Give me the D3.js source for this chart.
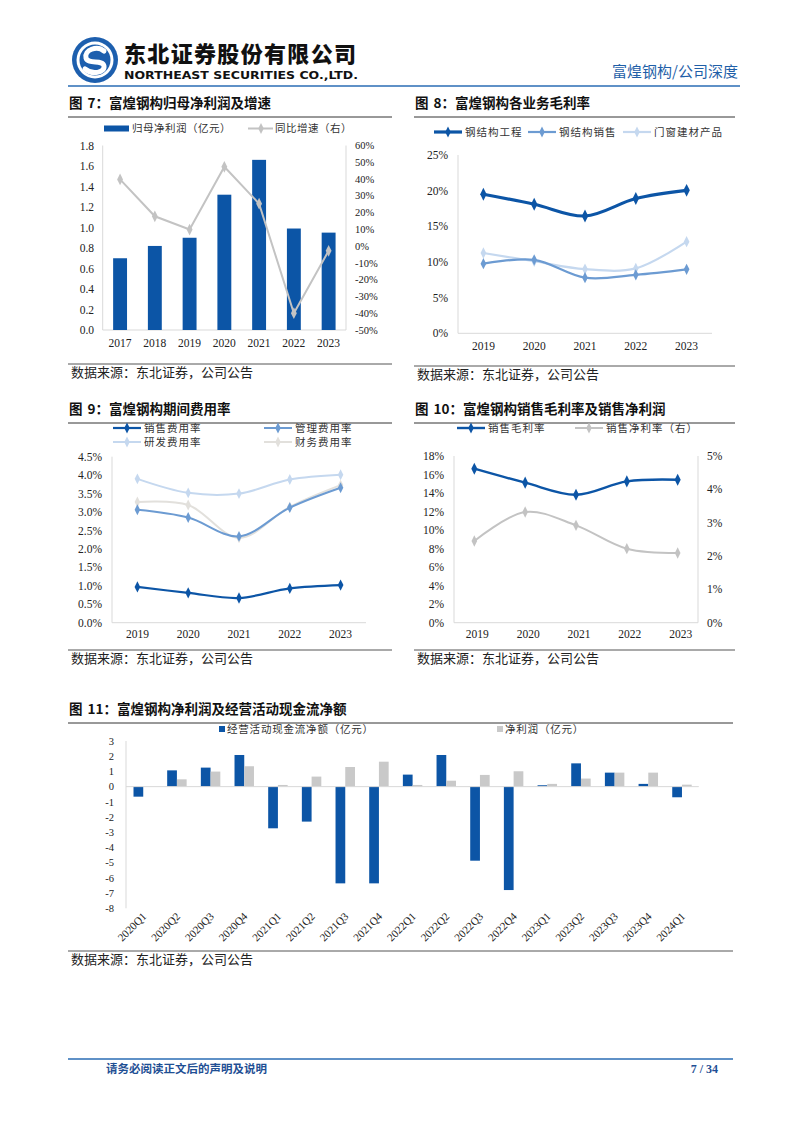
<!DOCTYPE html>
<html><head><meta charset="utf-8">
<script src="https://cdn.jsdelivr.net/npm/d3@7"></script>
<style>
html,body{margin:0;padding:0;background:#fff;}
svg{display:block;}
.cn{font-family:"Noto Sans CJK SC","Noto Sans",sans-serif;}
.num{font-family:"Liberation Serif","Times New Roman",serif;}
</style></head>
<body>
<svg id="page" width="802" height="1133"></svg>
<script>
// ---------------- DATA ----------------
const years7 = ["2017","2018","2019","2020","2021","2022","2023"];
const netProfit7 = [0.70, 0.82, 0.90, 1.32, 1.66, 0.99, 0.95];
const growth7 = [39.8, 17.8, 9.9, 47.3, 25.3, -40.0, -2.8];
const leftTicks7 = [0,0.2,0.4,0.6,0.8,1.0,1.2,1.4,1.6,1.8];
const rightTicks7 = [60,50,40,30,20,10,0,-10,-20,-30,-40,-50];

const years5 = ["2019","2020","2021","2022","2023"];
const gmSteelEng = [19.5, 18.1, 16.45, 18.9, 20.05];
const gmSteelSale = [9.76, 10.3, 7.8, 8.2, 8.97];
const gmDoorWin = [11.26, 10.1, 9.0, 9.1, 12.85];
const ticks8 = [0,5,10,15,20,25];

const sellRate = [0.97, 0.81, 0.67, 0.93, 1.02];
const mgmtRate = [3.06, 2.85, 2.34, 3.12, 3.66];
const rdRate = [3.90, 3.52, 3.50, 3.88, 4.01];
const finRate = [3.27, 3.19, 2.30, 3.14, 3.73];
const ticks9 = [0,0.5,1.0,1.5,2.0,2.5,3.0,3.5,4.0,4.5];

const grossMargin = [16.63, 15.12, 13.82, 15.26, 15.44];
const netMargin = [2.45, 3.32, 2.92, 2.22, 2.09];
const leftTicks10 = [0,2,4,6,8,10,12,14,16,18];
const rightTicks10 = [0,1,2,3,4,5];

const quarters = ["2020Q1","2020Q2","2020Q3","2020Q4","2021Q1","2021Q2","2021Q3","2021Q4","2022Q1","2022Q2","2022Q3","2022Q4","2023Q1","2023Q2","2023Q3","2023Q4","2024Q1"];
const opCashFlow = [-0.66, 1.07, 1.25, 2.08, -2.74, -2.30, -6.36, -6.36, 0.79, 2.08, -4.87, -6.80, 0.09, 1.53, 0.92, 0.18, -0.70];
const netProfitQ = [0.00, 0.48, 0.99, 1.34, 0.11, 0.66, 1.29, 1.64, 0.11, 0.39, 0.77, 1.01, 0.18, 0.53, 0.92, 0.92, 0.13];
const ticks11 = [3,2,1,0,-1,-2,-3,-4,-5,-6,-7,-8];

// ---------------- STYLE ----------------
const BLUE = "#0c55a6", MID = "#6c9bd2", LIGHT = "#c5d8ef", GRAY = "#c3c3c3", PALE = "#e2e0dc";
const AX = "#d9d9d9", TXT = "#222";
const svg = d3.select("#page");

// ---------------- HEADER ----------------
const logo = svg.append("g").attr("transform","translate(95,60)");
logo.append("circle").attr("r",23).attr("fill","#1d5fae");
logo.append("circle").attr("r",18.5).attr("fill","#fff");
logo.append("circle").attr("r",15.5).attr("fill","#1d5fae");
logo.append("path").attr("d","M9,-9 C2,-15 -11,-10 -9,-2 C-7,5 8,-1 9,6 C10,13 -3,15 -10,9")
  .attr("fill","none").attr("stroke","#fff").attr("stroke-width",5).attr("stroke-linecap","round");
svg.append("text").attr("class","cn").attr("x",124).attr("y",62).attr("font-size",22).attr("font-weight",900)
  .attr("fill","#111").attr("textLength",232).text("东北证券股份有限公司");
svg.append("text").attr("x",124).attr("y",78.5).attr("font-family","DejaVu Sans, sans-serif").attr("font-size",10.5).attr("font-weight","bold")
  .attr("fill","#111").attr("textLength",234).attr("lengthAdjust","spacingAndGlyphs").text("NORTHEAST SECURITIES CO.,LTD.");
svg.append("text").attr("class","cn").attr("x",738).attr("y",77).attr("text-anchor","end").attr("font-size",15)
  .attr("fill","#1f5fa8").text("富煌钢构/公司深度");
svg.append("line").attr("x1",68).attr("x2",740).attr("y1",86).attr("y2",86).attr("stroke","#2a6cb5").attr("stroke-width",1.5);

// ---------------- FOOTER ----------------
svg.append("line").attr("x1",68).attr("x2",733).attr("y1",1059).attr("y2",1059).attr("stroke","#2a6cb5").attr("stroke-width",1.5);
svg.append("text").attr("class","cn").attr("x",106).attr("y",1073).attr("font-size",11.5).attr("font-weight","bold")
  .attr("fill","#1f4f94").text("请务必阅读正文后的声明及说明");
svg.append("text").attr("class","num").attr("x",718).attr("y",1073).attr("text-anchor","end").attr("font-size",12).attr("font-weight","bold")
  .attr("fill","#1f4f94").text("7 / 34");

// ---------------- HELPERS ----------------
function title(x, y, x2, num, t){
  const tx = svg.append("text").attr("class","cn").attr("x",x).attr("y",y).attr("font-size",13.5).attr("font-weight","bold").attr("fill","#111");
  tx.append("tspan").text("图");
  tx.append("tspan").attr("dx",5).text(num + "：" + t);
  svg.append("line").attr("x1",x-1).attr("x2",x2).attr("y1",y+9).attr("y2",y+9).attr("stroke","#333").attr("stroke-width",1);
}
function source(x, y, x2){
  svg.append("line").attr("x1",x-1).attr("x2",x2).attr("y1",y-12).attr("y2",y-12).attr("stroke","#555").attr("stroke-width",1);
  svg.append("text").attr("class","cn").attr("x",x+2).attr("y",y+1).attr("font-size",13).attr("fill","#222").text("数据来源：东北证券，公司公告");
}
function vline(x, y1, y2){ svg.append("line").attr("x1",x).attr("x2",x).attr("y1",y1).attr("y2",y2).attr("stroke",AX).attr("stroke-width",1); }
function hline(x1, x2, y){ svg.append("line").attr("x1",x1).attr("x2",x2).attr("y1",y).attr("y2",y).attr("stroke",AX).attr("stroke-width",1); }
function yLabels(scale, ticks, x, anchor, fmt, size){
  const g = svg.append("g");
  g.selectAll("text").data(ticks).join("text").attr("class","num")
    .attr("x",x).attr("y",d=>scale(d)).attr("dy","0.35em").attr("text-anchor",anchor)
    .attr("font-size",size||11.5).attr("fill",TXT).text(fmt);
}
function xLabels(scale, cats, y, offset){
  svg.append("g").selectAll("text").data(cats).join("text").attr("class","num")
    .attr("x",d=>scale(d)+(offset||0)).attr("y",y).attr("text-anchor","middle").attr("font-size",11.5).attr("fill",TXT).text(d=>d);
}
function series(xs, ys, cats, vals, color, width, msize){
  const line = d3.line().x((d,i)=>xs(cats[i])).y(d=>ys(d)).curve(d3.curveCatmullRom.alpha(0.5));
  svg.append("path").datum(vals).attr("d",line).attr("fill","none").attr("stroke",color).attr("stroke-width",width);
  const sym = d3.symbol().type(d3.symbolDiamond).size(msize);
  svg.append("g").selectAll("path").data(vals).join("path")
    .attr("transform",(d,i)=>`translate(${xs(cats[i])},${ys(d)}) scale(1,1.15)`).attr("d",sym).attr("fill",color);
}
function legLine(x, y, color, width, label, len){
  len = len||28;
  svg.append("line").attr("x1",x).attr("x2",x+len).attr("y1",y).attr("y2",y).attr("stroke",color).attr("stroke-width",width);
  svg.append("path").attr("transform",`translate(${x+len/2},${y}) scale(1,1.15)`).attr("d",d3.symbol().type(d3.symbolDiamond).size(26)).attr("fill",color);
  svg.append("text").attr("class","cn").attr("x",x+len+3).attr("y",y).attr("dy","0.36em").attr("font-size",10.5).attr("fill","#333").attr("letter-spacing",1).text(label);
}
const pct0 = d=>d+"%";

// ---------------- CHART 7 ----------------
title(69,108,392,"7","富煌钢构归母净利润及增速");
{
  const x = d3.scaleBand().domain(years7).range([102.7,346]).paddingInner(0.6).paddingOuter(0.3);
  const yL = d3.scaleLinear().domain([0,1.8]).range([330,145.5]);
  const yR = d3.scaleLinear().domain([-50,60]).range([330,145.5]);
  vline(102.7,145.5,330); vline(346,145.5,330); hline(102.7,346,330);
  svg.append("g").selectAll("rect").data(netProfit7).join("rect")
    .attr("x",(d,i)=>x(years7[i])).attr("width",x.bandwidth())
    .attr("y",d=>yL(d)).attr("height",d=>yL(0)-yL(d)).attr("fill",BLUE);
  const xc = d=>x(d)+x.bandwidth()/2;
  const line = d3.line().x((d,i)=>xc(years7[i])).y(d=>yR(d));
  svg.append("path").datum(growth7).attr("d",line).attr("fill","none").attr("stroke",GRAY).attr("stroke-width",2);
  svg.append("g").selectAll("path").data(growth7).join("path")
    .attr("transform",(d,i)=>`translate(${xc(years7[i])},${yR(d)}) scale(1,1.15)`)
    .attr("d",d3.symbol().type(d3.symbolDiamond).size(30)).attr("fill",GRAY);
  yLabels(yL,leftTicks7,94,"end",d=>d.toFixed(1));
  yLabels(yR,rightTicks7,355,"start",pct0,10.5);
  svg.append("g").selectAll("text").data(years7).join("text").attr("class","num")
    .attr("x",d=>xc(d)).attr("y",347).attr("text-anchor","middle").attr("font-size",11.5).attr("fill",TXT).text(d=>d);
  // legend
  svg.append("rect").attr("x",104).attr("y",125.5).attr("width",25).attr("height",6).attr("fill",BLUE);
  svg.append("text").attr("class","cn").attr("x",132).attr("y",128.5).attr("dy","0.36em").attr("font-size",10.5).attr("fill","#333").attr("letter-spacing",0.5).text("归母净利润（亿元）");
  svg.append("line").attr("x1",248).attr("x2",273).attr("y1",128.5).attr("y2",128.5).attr("stroke",GRAY).attr("stroke-width",2);
  svg.append("path").attr("transform","translate(261,128.5) scale(1,1.15)").attr("d",d3.symbol().type(d3.symbolDiamond).size(26)).attr("fill",GRAY);
  svg.append("text").attr("class","cn").attr("x",275).attr("y",128.5).attr("dy","0.36em").attr("font-size",10.5).attr("fill","#333").attr("letter-spacing",0.5).text("同比增速（右）");
}
source(69,376,392);

// ---------------- CHART 8 ----------------
title(415,108,735,"8","富煌钢构各业务毛利率");
{
  const x = d3.scalePoint().domain(years5).range([458,712]).padding(0.5);
  const y = d3.scaleLinear().domain([0,25]).range([333.3,155]);
  vline(458,155,333.3); hline(458,712,333.3);
  series(x,y,years5,gmDoorWin,LIGHT,2.2,28);
  series(x,y,years5,gmSteelSale,MID,2.2,28);
  series(x,y,years5,gmSteelEng,BLUE,3.2,36);
  yLabels(y,ticks8,448,"end",pct0);
  xLabels(x,years5,350);
  legLine(434,132,BLUE,3.2,"钢结构工程");
  legLine(528,132,MID,2.2,"钢结构销售");
  legLine(623,132,LIGHT,2.2,"门窗建材产品");
}
source(415,378,735);

// ---------------- CHART 9 ----------------
title(69,414,392,"9","富煌钢构期间费用率");
{
  const x = d3.scalePoint().domain(years5).range([112,366]).padding(0.5);
  const y = d3.scaleLinear().domain([0,4.5]).range([622.7,456.7]);
  vline(112,456.7,622.7); hline(112,366,622.7);
  series(x,y,years5,rdRate,LIGHT,2,26);
  series(x,y,years5,finRate,PALE,2,26);
  series(x,y,years5,mgmtRate,MID,2,26);
  series(x,y,years5,sellRate,BLUE,2.2,28);
  yLabels(y,ticks9,102,"end",d=>d.toFixed(1)+"%");
  xLabels(x,years5,638);
  legLine(113,428,BLUE,2.2,"销售费用率");
  legLine(264,428,MID,2,"管理费用率");
  legLine(113,442,LIGHT,2,"研发费用率");
  legLine(264,442,PALE,2,"财务费用率");
}
source(69,662,392);

// ---------------- CHART 10 ----------------
title(415,414,735,"10","富煌钢构销售毛利率及销售净利润");
{
  const x = d3.scalePoint().domain(years5).range([454,698]).padding(0.4);
  const yL = d3.scaleLinear().domain([0,18]).range([622.7,456]);
  const yR = d3.scaleLinear().domain([0,5]).range([622.7,456]);
  vline(454,456,622.7); vline(698,456,622.7); hline(454,698,622.7);
  series(x,yR,years5,netMargin,GRAY,2,28);
  series(x,yL,years5,grossMargin,BLUE,2.4,32);
  yLabels(yL,leftTicks10,444,"end",pct0);
  yLabels(yR,rightTicks10,707,"start",pct0);
  xLabels(x,years5,638,3);
  legLine(457,428,BLUE,2.4,"销售毛利率");
  legLine(575,428,GRAY,2,"销售净利率（右）");
}
source(415,662,735);

// ---------------- CHART 11 ----------------
title(69,714,733,"11","富煌钢构净利润及经营活动现金流净额");
{
  const x = d3.scaleBand().domain(quarters).range([126.4,698.8]).padding(0);
  const x1 = d3.scaleBand().domain(["cf","np"]).range([0,x.bandwidth()]).paddingInner(0).paddingOuter(0.73);
  const y = d3.scaleLinear().domain([-8,3]).range([908.3,741]);
  vline(126,741,908.3);
  svg.append("g").selectAll("rect").data(opCashFlow).join("rect")
    .attr("x",(d,i)=>x(quarters[i])+x1("cf")).attr("width",x1.bandwidth())
    .attr("y",d=>y(Math.max(0,d))).attr("height",d=>Math.abs(y(d)-y(0))).attr("fill",BLUE);
  svg.append("g").selectAll("rect").data(netProfitQ).join("rect")
    .attr("x",(d,i)=>x(quarters[i])+x1("np")).attr("width",x1.bandwidth())
    .attr("y",d=>y(Math.max(0,d))).attr("height",d=>Math.abs(y(d)-y(0))).attr("fill","#c9c9c9");
  hline(126,698.8,y(0));
  yLabels(y,ticks11,114,"end",d=>d,10.5);
  svg.append("g").selectAll("text").data(quarters).join("text").attr("class","num")
    .attr("transform",d=>`translate(${x(d)+x.bandwidth()/2+4},${917}) rotate(-45)`)
    .attr("text-anchor","end").attr("font-size",11).attr("fill",TXT).text(d=>d);
  svg.append("rect").attr("x",219).attr("y",726).attr("width",6).attr("height",6).attr("fill",BLUE);
  svg.append("text").attr("class","cn").attr("x",227).attr("y",729).attr("dy","0.36em").attr("font-size",10.5).attr("fill","#333").attr("letter-spacing",0.8).text("经营活动现金流净额（亿元）");
  svg.append("rect").attr("x",497).attr("y",726).attr("width",6).attr("height",6).attr("fill","#c9c9c9");
  svg.append("text").attr("class","cn").attr("x",505).attr("y",729).attr("dy","0.36em").attr("font-size",10.5).attr("fill","#333").attr("letter-spacing",0.8).text("净利润（亿元）");
}
source(69,963,733);
</script>
</body></html>
